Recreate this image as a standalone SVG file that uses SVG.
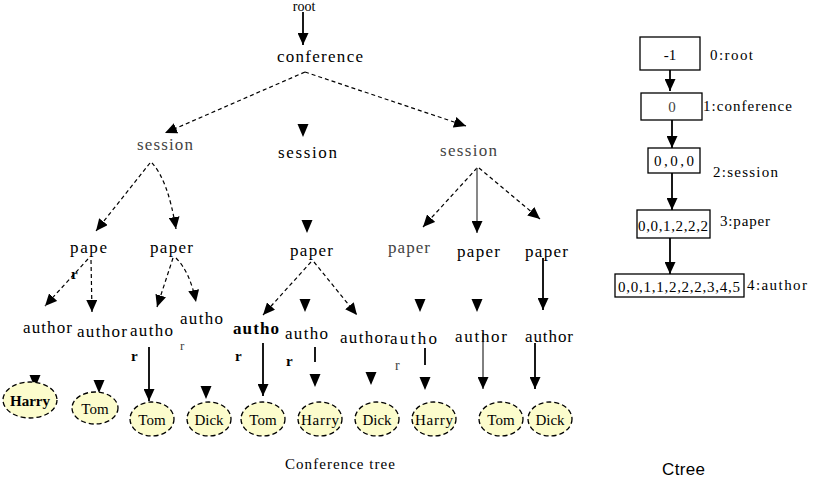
<svg xmlns="http://www.w3.org/2000/svg" width="831" height="486" viewBox="0 0 831 486">
<style>
text{font-family:"Liberation Serif","Times New Roman",serif;fill:#000}
.lbl{font-size:17px}
.gr{fill:#444}
.rr{font-size:15px;font-weight:bold}
.leaf{font-size:15px;text-anchor:middle}
.dash{fill:none;stroke:#000;stroke-width:1.2;stroke-dasharray:4 3}
.solid{fill:none;stroke:#000;stroke-width:1.8}
.thin{fill:none;stroke:#000;stroke-width:1}
.leafe{fill:#fcfccc;stroke:#000;stroke-width:1.3;stroke-dasharray:5 3}
.box{fill:#fff;stroke:#000;stroke-width:1.3}
.ct{font-size:15px}
.mid{text-anchor:middle}
</style>
<defs>
<marker id="arr" markerUnits="userSpaceOnUse" markerWidth="12" markerHeight="11" viewBox="0 0 12 11" refX="12" refY="5.5" orient="auto"><path d="M0,0 L12,5.5 L0,11 Z" fill="#000"/></marker>
<path id="ah" d="M-5.5,-13 L5.5,-13 L0,0 Z" fill="#000"/>
</defs>

<g id="connectors">
<path class="solid" d="M303,12 V45" marker-end="url(#arr)"/>
<path class="dash" d="M305,72 L165,133" marker-end="url(#arr)"/>
<path class="dash" d="M305,72 L466,126" marker-end="url(#arr)"/>
<use href="#ah" x="303" y="137"/>
<path class="dash" d="M150,163 L96,231" marker-end="url(#arr)"/>
<path class="dash" d="M152,163 Q168,180 176,229" marker-end="url(#arr)"/>
<path class="dash" d="M88,259 L45,306" marker-end="url(#arr)"/>
<path class="dash" d="M91,260 L92,312" marker-end="url(#arr)"/>
<path class="dash" d="M173,258 L157,307" marker-end="url(#arr)"/>
<path class="dash" d="M176,258 Q190,272 196,302" marker-end="url(#arr)"/>
<use href="#ah" x="307" y="233"/>
<path class="dash" d="M311,262 L263,315" marker-end="url(#arr)"/>
<use href="#ah" x="305" y="312"/>
<path class="dash" d="M314,262 L357,315" marker-end="url(#arr)"/>
<path class="dash" d="M477,168 L423,227" marker-end="url(#arr)"/>
<path fill="none" stroke="#555" stroke-width="1.4" d="M477,168 V233" marker-end="url(#arr)"/>
<path class="dash" d="M479,168 L540,219" marker-end="url(#arr)"/>
<use href="#ah" x="420" y="312"/>
<use href="#ah" x="477" y="312"/>
<path class="solid" d="M543,258 V310" marker-end="url(#arr)"/>
<use href="#ah" x="35" y="388"/>
<use href="#ah" x="99" y="393"/>
<path class="solid" d="M149,347 V401" marker-end="url(#arr)"/>
<use href="#ah" x="206" y="399"/>
<path class="solid" d="M263,343 V396" marker-end="url(#arr)"/>
<path class="solid" d="M315,347 V362"/>
<use href="#ah" x="315" y="387"/>
<use href="#ah" x="371" y="385"/>
<path class="solid" d="M425,348 V365"/>
<use href="#ah" x="425" y="390"/>
<path class="thin" d="M483,333 V389" marker-end="url(#arr)"/>
<path class="solid" d="M535,343 V389" marker-end="url(#arr)"/>
<path class="solid" d="M670,70 V91" marker-end="url(#arr)"/>
<path class="solid" d="M672,120 V148" marker-end="url(#arr)"/>
<path class="solid" d="M672,173 V210" marker-end="url(#arr)"/>
<path class="solid" d="M670,238 V274" marker-end="url(#arr)"/>
</g>

<g id="n-root"><text class="mid" x="304" y="11" font-size="14">root</text></g>
<g id="n-conference"><text class="lbl" x="277" y="62" textLength="86">conference</text></g>
<g id="n-session1"><text class="lbl gr" x="137" y="150" textLength="56">session</text></g>
<g id="n-session2"><text class="lbl" x="278" y="158" textLength="59">session</text></g>
<g id="n-session3"><text class="lbl gr" x="440" y="156" textLength="57">session</text></g>

<g id="n-paper1"><text class="lbl" x="70" y="253" textLength="37">pape</text><text class="rr" x="71" y="279">r</text></g>
<g id="n-paper2"><text class="lbl" x="150" y="253" textLength="43">paper</text></g>
<g id="n-paper3"><text class="lbl" x="290" y="256" textLength="43">paper</text></g>
<g id="n-paper4"><text class="lbl gr" x="388" y="253" textLength="42">paper</text></g>
<g id="n-paper5"><text class="lbl" x="457" y="257" textLength="43">paper</text></g>
<g id="n-paper6"><text class="lbl" x="525" y="257" textLength="43">paper</text></g>

<g id="n-author1"><text class="lbl" x="23" y="333" textLength="49">author</text></g>
<g id="n-author2"><text class="lbl" x="77" y="337" textLength="50">author</text></g>
<g id="n-author3"><text class="lbl" x="130" y="336" textLength="43">autho</text><text class="rr" x="131" y="361">r</text></g>
<g id="n-author4"><text class="lbl" x="180" y="324" textLength="43">autho</text><text class="gr" x="180" y="350" font-size="13">r</text></g>
<g id="n-author5"><text class="lbl" x="233" y="334" textLength="46" font-weight="bold">autho</text><text class="rr" x="235" y="361">r</text></g>
<g id="n-author6"><text class="lbl" x="285" y="339" textLength="43">autho</text><text class="rr" x="286" y="366">r</text></g>
<g id="n-author7"><text class="lbl" x="340" y="343" textLength="50">author</text></g>
<g id="n-author8"><text class="lbl" x="390" y="344" textLength="47">autho</text><text class="gr" x="395" y="370" font-size="14">r</text></g>
<g id="n-author9"><text class="lbl" x="455" y="342" textLength="52">author</text></g>
<g id="n-author10"><text class="lbl" x="525" y="342" textLength="48">author</text></g>

<g id="n-leaf1"><ellipse class="leafe" cx="30" cy="400" rx="27" ry="18"/><text class="leaf" x="30" y="406" font-weight="bold" textLength="40">Harry</text></g>
<g id="n-leaf2"><ellipse class="leafe" cx="95" cy="408" rx="23" ry="16"/><text class="leaf" x="95" y="414">Tom</text></g>
<g id="n-leaf3"><ellipse class="leafe" cx="152" cy="419" rx="22" ry="17"/><text class="leaf" x="152" y="425">Tom</text></g>
<g id="n-leaf4"><ellipse class="leafe" cx="209" cy="419" rx="22" ry="17"/><text class="leaf" x="209" y="425">Dick</text></g>
<g id="n-leaf5"><ellipse class="leafe" cx="263" cy="419" rx="22" ry="17"/><text class="leaf" x="263" y="425">Tom</text></g>
<g id="n-leaf6"><ellipse class="leafe" cx="320" cy="419" rx="22" ry="17"/><text class="leaf" x="320" y="425" textLength="38">Harry</text></g>
<g id="n-leaf7"><ellipse class="leafe" cx="377" cy="419" rx="22" ry="17"/><text class="leaf" x="377" y="425">Dick</text></g>
<g id="n-leaf8"><ellipse class="leafe" cx="434" cy="419" rx="22" ry="17"/><text class="leaf" x="434" y="425" textLength="38">Harry</text></g>
<g id="n-leaf9"><ellipse class="leafe" cx="501" cy="419" rx="22" ry="17"/><text class="leaf" x="501" y="425">Tom</text></g>
<g id="n-leaf10"><ellipse class="leafe" cx="550" cy="419" rx="22" ry="17"/><text class="leaf" x="550" y="425">Dick</text></g>

<g id="title-conference"><text x="285" y="469" font-size="15" textLength="110">Conference tree</text></g>
<g id="title-ctree"><text x="662" y="475" font-size="17" style="font-family:'Liberation Sans',Arial,sans-serif" textLength="43">Ctree</text></g>

<g id="c-root"><rect class="box" x="640" y="37" width="60" height="33"/><text class="ct mid" x="670" y="60" font-size="16">-1</text><text class="ct" x="710" y="60" textLength="43">0:root</text></g>
<g id="c-conference"><rect class="box" x="641" y="93" width="61" height="27" stroke="#999"/><text class="ct mid gr" x="672" y="112">0</text><text class="ct" x="703" y="111" textLength="89">1:conference</text></g>
<g id="c-session"><rect class="box" x="648" y="148" width="52" height="25"/><text class="ct mid" x="674" y="166" textLength="40">0,0,0</text><text class="ct" x="713" y="177" textLength="65">2:session</text></g>
<g id="c-paper"><rect class="box" x="637" y="210" width="73" height="28"/><text class="ct mid" x="673" y="231" textLength="70">0,0,1,2,2,2</text><text class="ct" x="720" y="226" textLength="50">3:paper</text></g>
<g id="c-author"><rect class="box" x="615" y="274" width="129" height="23" stroke-width="2"/><text class="ct mid" x="679" y="292" textLength="122">0,0,1,1,2,2,2,3,4,5</text><text class="ct" x="747" y="290" textLength="60">4:author</text></g>
</svg>
